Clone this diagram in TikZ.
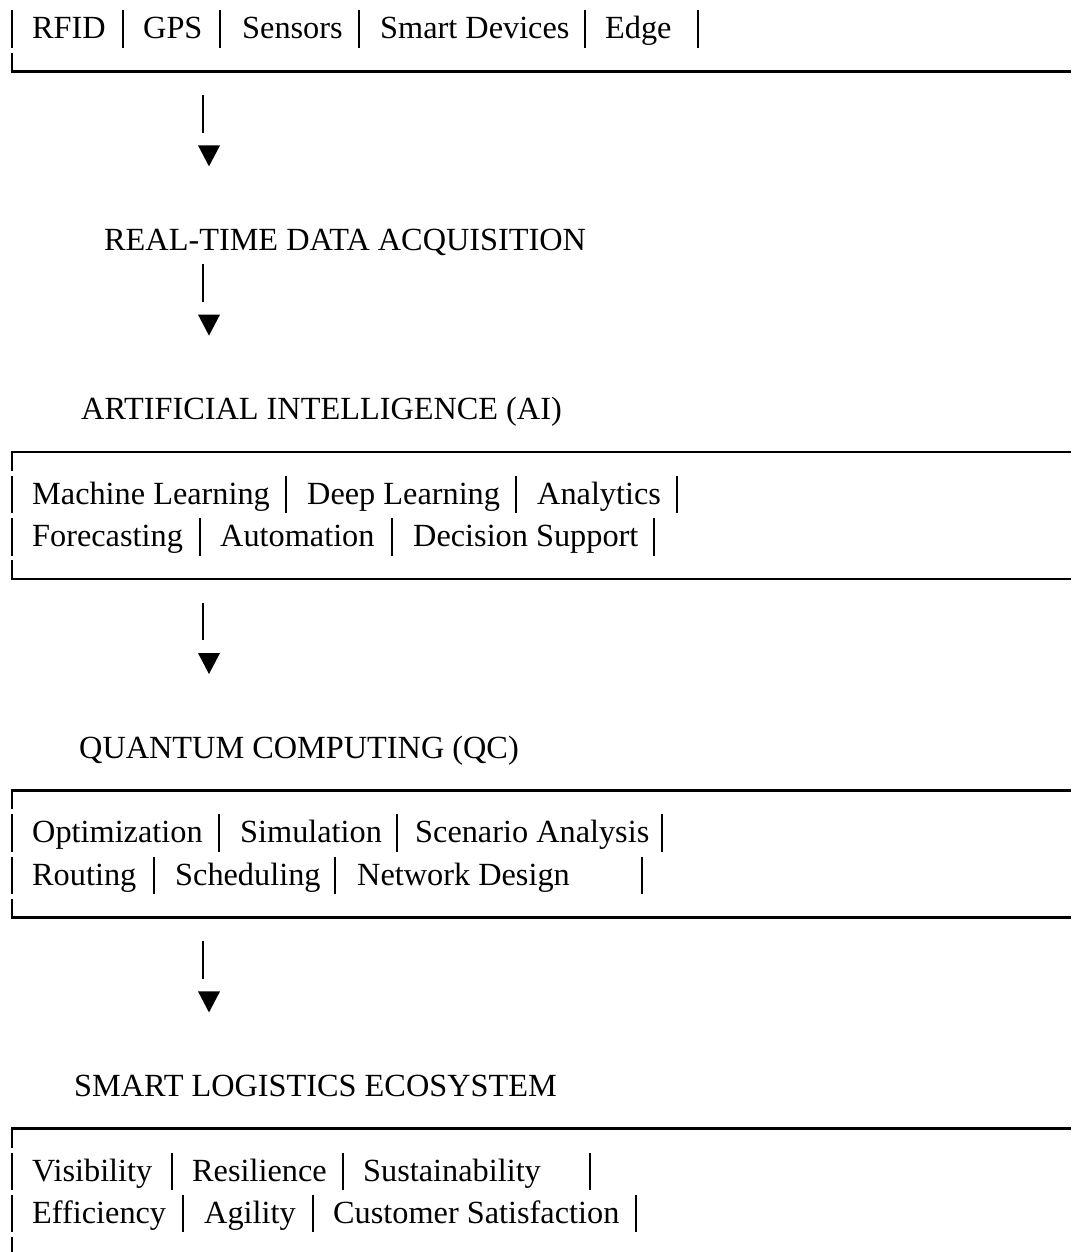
\documentclass[tikz,border=0pt]{standalone}
\usepackage{fontspec}
\setmainfont{Liberation Serif}
\newcommand\cy[2]{{8+(#1)*42.3+(#2)}}
\tikzset{
  txt/.style={anchor=base west, inner sep=0pt, font=\fontsize{32.3}{38}\selectfont},
  sepbar/.style={line width=2.7pt},
  rulebar/.style={line width=2.7pt, line join=miter},
  tri/.style={fill=black, draw=none},
}
\newcommand\sepbars[2]{\foreach \bx in {#2}{\draw[sepbar] (\bx,\cy{#1}{2.5}) -- (\bx,\cy{#1}{40});}}
\newcommand\boxtopline[1]{\draw[rulebar] (12,\cy{#1}{40}) -- (12,\cy{#1}{21}) -- (1071,\cy{#1}{21});}
\newcommand\boxbotline[1]{\draw[rulebar] (12,\cy{#1}{2.5}) -- (12,\cy{#1}{21}) -- (1071,\cy{#1}{21});}
\newcommand\flowarrow[1]{%
  \draw[sepbar] (203,\cy{#1}{2.5}) -- (203,\cy{#1}{40});
  \fill[tri] (198,\cy{#1+1}{10.5}) -- (220,\cy{#1+1}{10.5}) -- (209,\cy{#1+1}{31.5}) -- cycle;}
\begin{document}
\begin{tikzpicture}[x=1pt,y=-1pt]
\fill[white] (0,0) rectangle (1071,1252);
\useasboundingbox (0,0) rectangle (1071,1252);

% ---- top box (sources)
\sepbars{0}{12,123,220,359,585,698}
\node[txt] (rfid) at (32,\cy{0}{31}) {RFID};
\node[txt] (gps) at (143,\cy{0}{31}) {GPS};
\node[txt] (sens) at (242,\cy{0}{31}) {Sensors};
\node[txt] (smart) at (380,\cy{0}{31}) {Smart Devices};
\node[txt] (edge) at (605,\cy{0}{31}) {Edge};
\boxbotline{1}

\flowarrow{2}
\node[txt] (rtda) at (104,\cy{5}{31}) {REAL-TIME DATA ACQUISITION};
\flowarrow{6}
\node[txt] (ai) at (81,\cy{9}{31}) {ARTIFICIAL INTELLIGENCE (AI)};

% ---- AI box
\boxtopline{10}
\sepbars{11}{12,286,516,677}
\node[txt] (ml) at (32,\cy{11}{31}) {Machine Learning};
\node[txt] (dl) at (307,\cy{11}{31}) {Deep Learning};
\node[txt] (an) at (537,\cy{11}{31}) {Analytics};
\sepbars{12}{12,200,392,654}
\node[txt] (fc) at (32,\cy{12}{31}) {Forecasting};
\node[txt] (au) at (220,\cy{12}{31}) {Automation};
\node[txt] (ds) at (413,\cy{12}{31}) {Decision Support};
\boxbotline{13}

\flowarrow{14}
\node[txt] (qc) at (79,\cy{17}{31}) {QUANTUM COMPUTING (QC)};

% ---- QC box
\boxtopline{18}
\sepbars{19}{12,219,397,662}
\node[txt] (opt) at (32,\cy{19}{31}) {Optimization};
\node[txt] (sim) at (240,\cy{19}{31}) {Simulation};
\node[txt] (sca) at (415,\cy{19}{31}) {Scenario Analysis};
\sepbars{20}{12,154,335,642}
\node[txt] (rou) at (32,\cy{20}{31}) {Routing};
\node[txt] (sch) at (175,\cy{20}{31}) {Scheduling};
\node[txt] (nd) at (357,\cy{20}{31}) {Network Design};
\boxbotline{21}

\flowarrow{22}
\node[txt] (sle) at (74,\cy{25}{31}) {SMART LOGISTICS ECOSYSTEM};

% ---- SLE box
\boxtopline{26}
\sepbars{27}{12,172,343,590}
\node[txt] (vis) at (32,\cy{27}{31}) {Visibility};
\node[txt] (res) at (192,\cy{27}{31}) {Resilience};
\node[txt] (sus) at (363,\cy{27}{31}) {Sustainability};
\sepbars{28}{12,183,313,636}
\node[txt] (eff) at (32,\cy{28}{31}) {Efficiency};
\node[txt] (agi) at (204,\cy{28}{31}) {Agility};
\node[txt] (cs) at (333,\cy{28}{31}) {Customer Satisfaction};
\draw[sepbar] (12,\cy{29}{2.5}) -- (12,1252);
\end{tikzpicture}
\end{document}
